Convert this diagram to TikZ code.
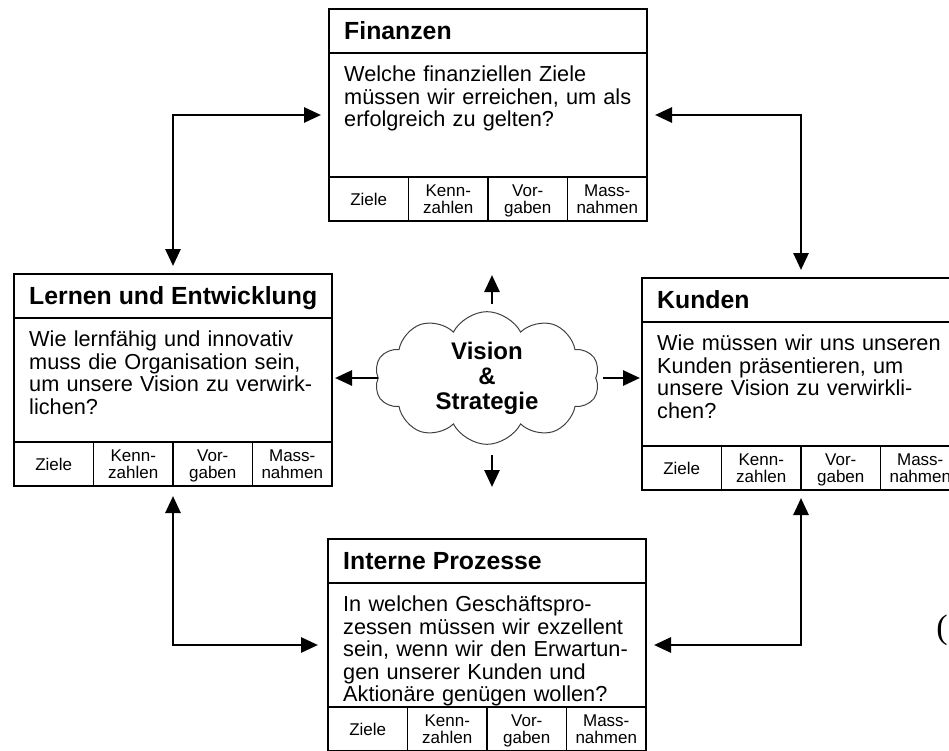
\documentclass[tikz,border=0pt]{standalone}
\usepackage{fontspec}
\setmainfont{Liberation Sans}
\newfontfamily\klammerfont{Liberation Serif}
\usetikzlibrary{positioning,shapes.symbols,arrows.meta}

\tikzset{
  kopf/.style={draw, line width=1.5pt, outer sep=0pt, anchor=north west,
    minimum width=318pt, minimum height=44pt, inner sep=0pt},
  kopftext/.style={anchor=west, inner xsep=15pt, inner ysep=0pt,
    text height=17.8pt, text depth=0pt,
    font=\bfseries\fontsize{24.8}{26}\selectfont},
  frage/.style={draw, line width=1.5pt, outer sep=0pt, minimum width=318pt,
    minimum height=124pt, inner sep=0pt},
  fragetext/.style={anchor=north west, inner xsep=15pt, inner ysep=13pt,
    text width=300pt, align=left, font=\fontsize{21.7}{22.5}\selectfont},
  zelle/.style={draw, line width=1.5pt, outer sep=0pt, minimum width=79.5pt,
    minimum height=44pt, inner sep=0pt, align=center, text depth=0pt,
    font=\fontsize{17}{16.7}\selectfont},
  wolke/.style={cloud, draw=black!75, line width=1pt, cloud puffs=10,
    cloud puff arc=125, aspect=1.83, minimum width=225pt, minimum height=123pt,
    inner sep=0pt, align=center, font=\bfseries\fontsize{24}{25}\selectfont},
  pfeil/.style={line width=2.8pt, -{Triangle[length=17pt,width=15pt]}},
  doppelpfeil/.style={line width=2.8pt,
    {Triangle[length=17pt,width=15pt]}-{Triangle[length=17pt,width=15pt]},
    shorten <=8pt, shorten >=8pt},
}

\begin{document}
\begin{tikzpicture}[x=1pt,y=-1pt]
\clip (0,0) rectangle (949,751);

% Finanzen
\node[kopf] (fin-h) at (329,9) {};
\node[kopftext] at (fin-h.west) {Finanzen};
\node[frage, below=0pt of fin-h] (fin-q) {};
\node[fragetext] (fin-t) at (fin-q.north west) {Welche finanziellen Ziele\\m\"ussen wir erreichen, um als\\erfolgreich zu gelten?};
\node[zelle, below right=0pt of fin-q.south west] (fin-z1) {Ziele};
\node[zelle, right=0pt of fin-z1] (fin-z2) {Kenn-\\zahlen};
\node[zelle, right=0pt of fin-z2] (fin-z3) {Vor-\\gaben};
\node[zelle, right=0pt of fin-z3] (fin-z4) {Mass-\\nahmen};

% Lernen und Entwicklung
\node[kopf] (lern-h) at (14,274) {};
\node[kopftext] at (lern-h.west) {Lernen und Entwicklung};
\node[frage, below=0pt of lern-h] (lern-q) {};
\node[fragetext] (lern-t) at (lern-q.north west) {Wie lernf\"ahig und innovativ\\muss die Organisation sein,\\um unsere Vision zu verwirk-\\lichen?};
\node[zelle, below right=0pt of lern-q.south west] (lern-z1) {Ziele};
\node[zelle, right=0pt of lern-z1] (lern-z2) {Kenn-\\zahlen};
\node[zelle, right=0pt of lern-z2] (lern-z3) {Vor-\\gaben};
\node[zelle, right=0pt of lern-z3] (lern-z4) {Mass-\\nahmen};

% Kunden
\node[kopf] (kun-h) at (642,278) {};
\node[kopftext] at (kun-h.west) {Kunden};
\node[frage, below=0pt of kun-h] (kun-q) {};
\node[fragetext] (kun-t) at (kun-q.north west) {Wie m\"ussen wir uns unseren\\Kunden pr\"asentieren, um\\unsere Vision zu verwirkli-\\chen?};
\node[zelle, below right=0pt of kun-q.south west] (kun-z1) {Ziele};
\node[zelle, right=0pt of kun-z1] (kun-z2) {Kenn-\\zahlen};
\node[zelle, right=0pt of kun-z2] (kun-z3) {Vor-\\gaben};
\node[zelle, right=0pt of kun-z3] (kun-z4) {Mass-\\nahmen};

% Interne Prozesse
\node[kopf] (int-h) at (328,539) {};
\node[kopftext] at (int-h.west) {Interne Prozesse};
\node[frage, below=0pt of int-h] (int-q) {};
\node[fragetext] (int-t) at (int-q.north west) {In welchen Gesch\"aftspro-\\zessen m\"ussen wir exzellent\\sein, wenn wir den Erwartun-\\gen unserer Kunden und\\Aktion\"are gen\"ugen wollen?};
\node[zelle, below right=0pt of int-q.south west] (int-z1) {Ziele};
\node[zelle, right=0pt of int-z1] (int-z2) {Kenn-\\zahlen};
\node[zelle, right=0pt of int-z2] (int-z3) {Vor-\\gaben};
\node[zelle, right=0pt of int-z3] (int-z4) {Mass-\\nahmen};

% Vision & Strategie
\node[wolke] (vs) at (487,378) {Vision\\\&\\Strategie};
\coordinate (vs-o) at (492,275);
\coordinate (vs-u) at (492,487);
\draw[pfeil, shorten <=7pt] (vs-o |- vs.north) -- (vs-o);
\draw[pfeil, shorten <=10pt] (vs-u |- vs.south) -- (vs-u);
\draw[pfeil, shorten >=3pt] (vs.west) -- (vs.west -| lern-q.east);
\draw[pfeil, shorten <=7pt, shorten >=2pt] (vs.east) -- (vs.east -| kun-q.west);

% Verbindungen
\draw[doppelpfeil] (lern-h.north) |- (fin-q.west);
\draw[doppelpfeil] (fin-q.east) -| (kun-h.north);
\draw[doppelpfeil, shorten <=10pt, shorten >=10pt] (lern-h.north |- lern-z1.south) |- (int-q.west);
\draw[doppelpfeil] (int-q.east) -| (kun-h.north |- kun-z1.south);

\node[font=\klammerfont\fontsize{34}{34}\selectfont] (klammer) at (942,630) {(};
\end{tikzpicture}
\end{document}
